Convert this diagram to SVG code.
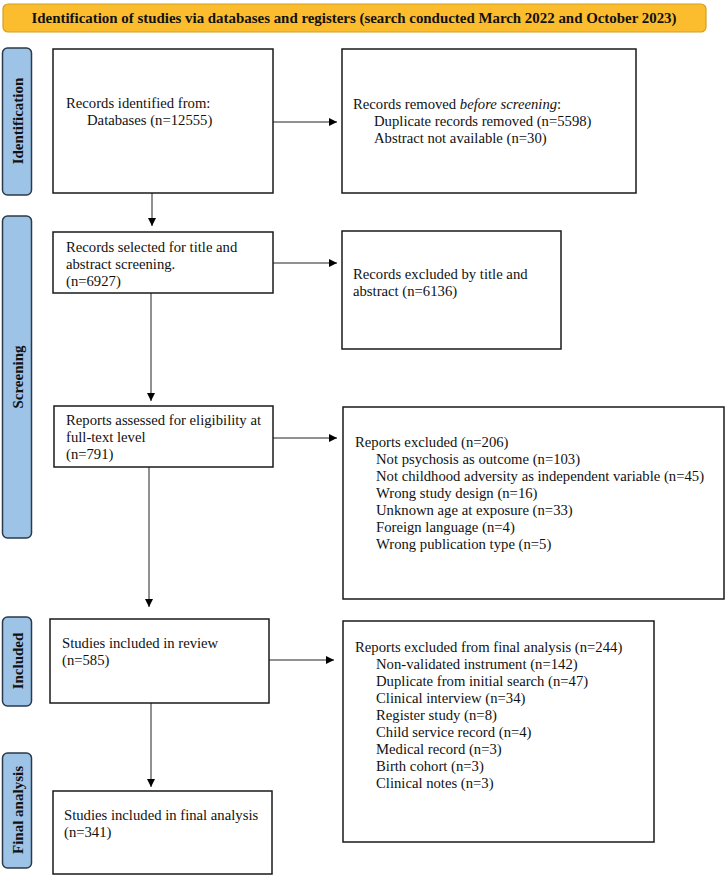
<svg xmlns="http://www.w3.org/2000/svg" width="728" height="875" viewBox="0 0 728 875">
<style>
.box{fill:#fff;stroke:#1a1a1a;stroke-width:1.5}
.side{fill:#9DC3E6;stroke:#2b3a4a;stroke-width:1.5}
.t{font-family:"Liberation Serif","Times New Roman",serif;font-size:14.7px;fill:#111}
.st{font-family:"Liberation Serif","Times New Roman",serif;font-size:15px;font-weight:bold;fill:#111;text-anchor:middle}
.c{stroke:#222;stroke-width:1;fill:none;marker-end:url(#ah)}
</style>
<defs>
<marker id="ah" viewBox="0 0 10 10" refX="10" refY="5" markerWidth="9" markerHeight="8" markerUnits="userSpaceOnUse" orient="auto">
<path d="M0,0 L10,5 L0,10 Z" fill="#000"/>
</marker>
</defs>
<rect width="728" height="875" fill="#fff"/>
<g id="banner">
<rect x="3" y="4" width="703" height="28" rx="5" fill="#FBBC2E" stroke="#D4A020" stroke-width="1.2"/>
<text x="354" y="23" font-family="'Liberation Serif','Times New Roman',serif" font-size="14.5" font-weight="bold" fill="#111" text-anchor="middle" textLength="645" lengthAdjust="spacingAndGlyphs">Identification of studies via databases and registers (search conducted March 2022 and October 2023)</text>
</g>
<g id="side-identification">
<rect class="side" x="2.5" y="48" width="29" height="147" rx="5"/>
<text class="st" transform="translate(23,121) rotate(-90)">Identification</text>
</g>
<g id="side-screening">
<rect class="side" x="2.5" y="216" width="29" height="322" rx="5"/>
<text class="st" transform="translate(23,377) rotate(-90)">Screening</text>
</g>
<g id="side-included">
<rect class="side" x="2.5" y="617" width="29" height="89" rx="5"/>
<text class="st" transform="translate(23,661) rotate(-90)">Included</text>
</g>
<g id="side-final">
<rect class="side" x="2.5" y="753" width="29" height="115" rx="5"/>
<text class="st" transform="translate(23,810) rotate(-90)">Final analysis</text>
</g>
<g id="connectors">
<line class="c" x1="273" y1="122" x2="337" y2="122"/>
<line class="c" x1="152" y1="193" x2="152" y2="226"/>
<line class="c" x1="273" y1="263" x2="337" y2="263"/>
<line class="c" x1="151" y1="293" x2="151" y2="401"/>
<line class="c" x1="273" y1="438" x2="337" y2="438"/>
<line class="c" x1="149" y1="467" x2="149" y2="607"/>
<line class="c" x1="269" y1="660" x2="334" y2="660"/>
<line class="c" x1="151" y1="703" x2="151" y2="787"/>
</g>
<g id="n1">
<rect class="box" x="53" y="49" width="220" height="144"/>
<text class="t" x="66" y="108">Records identified from:</text>
<text class="t" x="87" y="125">Databases (n=12555)</text>
</g>
<g id="n2">
<rect class="box" x="342" y="49" width="294" height="144"/>
<text class="t" x="353" y="109">Records removed <tspan font-style="italic">before screening</tspan>:</text>
<text class="t" x="374" y="126">Duplicate records removed (n=5598)</text>
<text class="t" x="374" y="143">Abstract not available (n=30)</text>
</g>
<g id="n3">
<rect class="box" x="53" y="232" width="220" height="61"/>
<text class="t" x="66" y="252">Records selected for title and</text>
<text class="t" x="66" y="269">abstract screening.</text>
<text class="t" x="66" y="286">(n=6927)</text>
</g>
<g id="n4">
<rect class="box" x="342" y="231" width="219" height="118"/>
<text class="t" x="353" y="279">Records excluded by title and</text>
<text class="t" x="353" y="296">abstract (n=6136)</text>
</g>
<g id="n5">
<rect class="box" x="54" y="406" width="219" height="61"/>
<text class="t" x="66" y="425">Reports assessed for eligibility at</text>
<text class="t" x="66" y="442">full-text level</text>
<text class="t" x="66" y="459">(n=791)</text>
</g>
<g id="n6">
<rect class="box" x="343" y="407" width="381" height="192"/>
<text class="t" x="355" y="447">Reports excluded (n=206)</text>
<text class="t" x="376" y="464">Not psychosis as outcome (n=103)</text>
<text class="t" x="376" y="481">Not childhood adversity as independent variable (n=45)</text>
<text class="t" x="376" y="498">Wrong study design (n=16)</text>
<text class="t" x="376" y="515">Unknown age at exposure (n=33)</text>
<text class="t" x="376" y="532">Foreign language (n=4)</text>
<text class="t" x="376" y="549">Wrong publication type (n=5)</text>
</g>
<g id="n7">
<rect class="box" x="50" y="619" width="219" height="84"/>
<text class="t" x="62" y="648">Studies included in review</text>
<text class="t" x="62" y="665">(n=585)</text>
</g>
<g id="n8">
<rect class="box" x="343" y="621" width="311" height="221"/>
<text class="t" x="355" y="652">Reports excluded from final analysis (n=244)</text>
<text class="t" x="376" y="669">Non-validated instrument (n=142)</text>
<text class="t" x="376" y="686">Duplicate from initial search (n=47)</text>
<text class="t" x="376" y="703">Clinical interview (n=34)</text>
<text class="t" x="376" y="720">Register study (n=8)</text>
<text class="t" x="376" y="737">Child service record (n=4)</text>
<text class="t" x="376" y="754">Medical record (n=3)</text>
<text class="t" x="376" y="771">Birth cohort (n=3)</text>
<text class="t" x="376" y="788">Clinical notes (n=3)</text>
</g>
<g id="n9">
<rect class="box" x="53" y="791" width="219" height="83"/>
<text class="t" x="64" y="820">Studies included in final analysis</text>
<text class="t" x="64" y="837">(n=341)</text>
</g>
</svg>
